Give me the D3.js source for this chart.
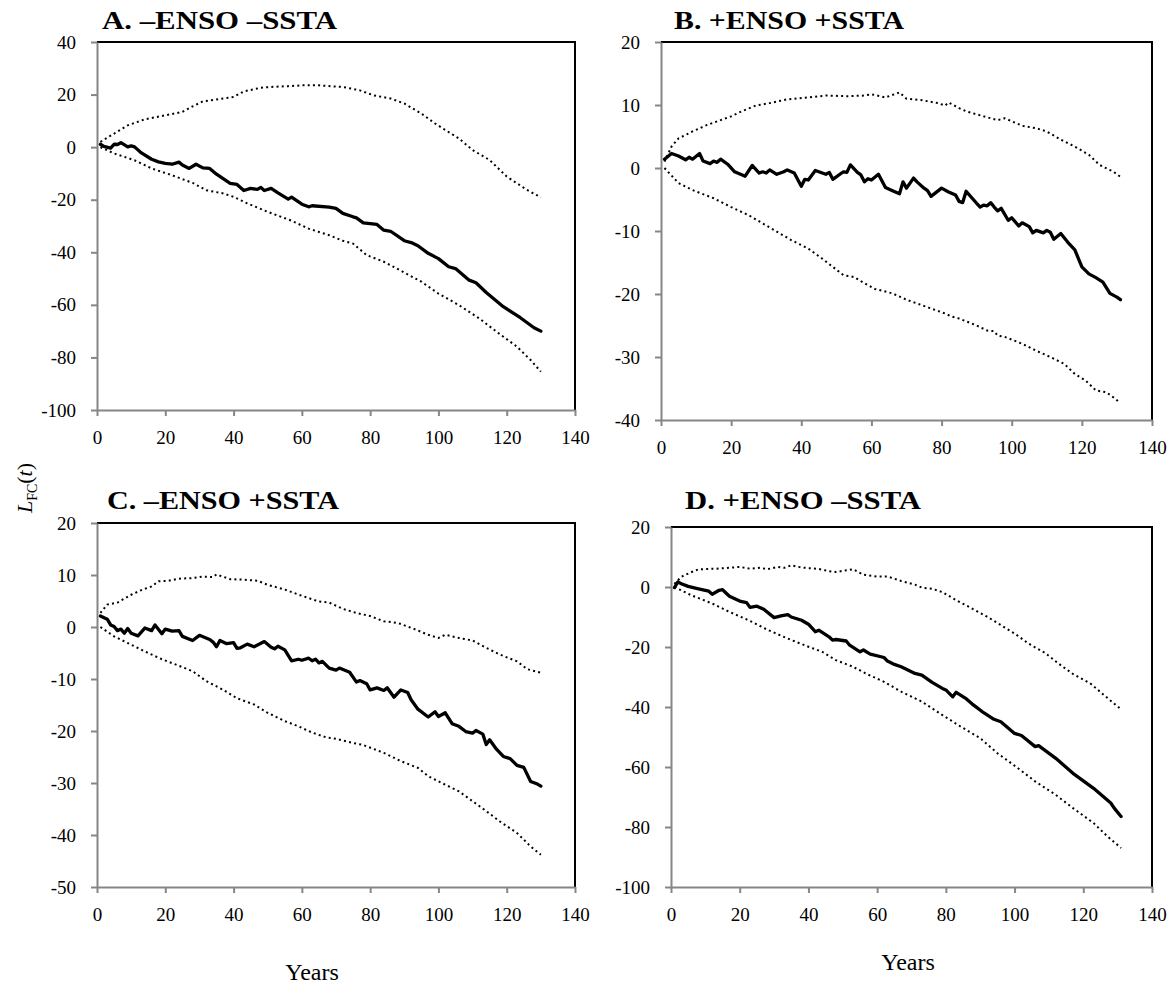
<!DOCTYPE html>
<html>
<head>
<meta charset="utf-8">
<script src="https://cdn.jsdelivr.net/npm/d3@7"></script>
<style>
  body { margin: 0; background: #fff; }
  svg text { font-family: "Liberation Serif", "Times New Roman", serif; fill: #000; }
  .axis path, .axis line { stroke: #868686; stroke-width: 2; }
  .axis text { font-size: 19px; }
</style>
</head>
<body>
<div id="chart"></div>
<script>
// values: [year, L_FC]
const aMean = [[1,1.1],[2,0.3],[4,-0.4],[5,1.1],[6,1.0],[7,1.7],[9,0.1],[10,0.5],[11,0.1],[13,-2.2],[16,-4.6],[18,-5.6],[20,-6.2],[22,-6.5],[24,-5.7],[25,-6.8],[27,-8.1],[29,-6.5],[31,-7.9],[33,-8.1],[35,-10.3],[39,-13.8],[41,-14.2],[43,-16.5],[45,-15.7],[47,-16.1],[48,-15.3],[49,-16.5],[51,-15.7],[53,-17.4],[56,-19.8],[57,-19.0],[60,-21.7],[62,-22.7],[63,-22.3],[68,-22.8],[70,-23.3],[72,-25.2],[75,-26.5],[76,-26.9],[78,-28.8],[82,-29.4],[84,-31.6],[86,-32.0],[90,-35.6],[92,-36.3],[94,-37.5],[97,-40.4],[100,-42.4],[103,-45.5],[105,-46.2],[109,-50.6],[111,-51.6],[114,-55.3],[119,-60.7],[124,-64.9],[128,-68.7],[130,-70.0]];
const aUpper = [[1,2],[9,8.3],[14,10.6],[20,12.1],[25,13.4],[28,15.5],[31,17.4],[37,18.5],[40,19.1],[43,21.2],[48,22.6],[51,22.9],[56,23.2],[60,23.5],[65,23.5],[69,23.1],[72,22.9],[77,21.6],[81,19.7],[86,18.5],[90,16.6],[95,12.8],[99,9.0],[106,3.3],[110,-1.1],[115,-4.9],[120,-11.2],[126,-16.3],[130,-19.1]];
const aLower = [[1,0],[5,-2.4],[11,-5],[16,-8.1],[22,-10.7],[28,-13.6],[32,-16.4],[37,-17.6],[40,-18.9],[44,-21.4],[50,-24.6],[57,-28],[62,-31],[68,-33.5],[72,-35.6],[75,-36.7],[79,-41.1],[84,-43.6],[89,-47],[95,-51.2],[100,-55.7],[106,-60.1],[112,-65.2],[117,-70.2],[123,-75.9],[127,-81],[130,-85.4]];

const bMean = [[1,1.4],[3,2.3],[5,1.9],[7,1.3],[8,1.7],[9,1.4],[11,2.3],[12,1.1],[14,0.7],[15,1.1],[16,0.9],[17,1.4],[19,0.6],[21,-0.6],[24,-1.3],[26,0.4],[28,-0.8],[29,-0.6],[30,-0.8],[31,-0.3],[33,-1.0],[35,-0.6],[36,-0.3],[38,-0.8],[40,-2.9],[41,-1.8],[42,-1.9],[44,-0.4],[47,-1.0],[48,-0.7],[49,-1.8],[52,-0.6],[53,-0.7],[54,0.5],[56,-0.7],[57,-1.1],[58,-2.2],[59,-1.7],[60,-1.9],[62,-1.0],[64,-3.1],[66,-3.6],[68,-4.1],[69,-2.2],[70,-3.2],[72,-1.6],[73,-2.2],[75,-3.2],[76,-3.6],[77,-4.5],[80,-3.2],[82,-3.8],[84,-4.3],[85,-5.3],[86,-5.5],[87,-3.7],[90,-5.6],[91,-6.2],[92,-5.9],[93,-6.0],[94,-5.5],[95,-6.2],[96,-6.8],[97,-6.4],[99,-8.3],[100,-7.9],[102,-9.2],[103,-8.7],[105,-9.3],[106,-10.3],[107,-9.9],[109,-10.3],[110,-9.9],[111,-10.2],[112,-11.3],[114,-10.4],[116,-11.8],[118,-13.0],[120,-15.7],[122,-16.8],[124,-17.4],[126,-18.1],[128,-19.9],[130,-20.5],[131,-20.9]];
const bUpper = [[1,1],[3,3.4],[5,4.7],[9,5.8],[13,6.8],[17,7.6],[20,8.2],[23,9],[27,9.9],[31,10.3],[36,10.9],[42,11.2],[47,11.5],[53,11.4],[58,11.5],[60,11.7],[64,11.2],[68,12],[70,11],[74,10.8],[79,10.3],[81,9.9],[82,10.4],[85,9.5],[87,9],[92,8.2],[96,7.6],[98,7.9],[103,6.7],[107,6.3],[110,5.8],[114,4.5],[118,3.4],[122,2.1],[125,0.5],[129,-0.6],[131,-1.4]];
const bLower = [[1,0],[5,-2.4],[9,-3.5],[15,-4.8],[20,-6.2],[25,-7.5],[29,-8.8],[33,-10.1],[37,-11.4],[42,-12.8],[46,-14.4],[49,-15.7],[52,-17],[55,-17.3],[59,-18.6],[61,-19.2],[66,-19.9],[70,-20.9],[72,-21.3],[77,-22.3],[81,-23.1],[83,-23.6],[85,-23.9],[90,-25],[93,-25.8],[95,-25.9],[96,-26.6],[98,-26.8],[103,-27.9],[107,-29],[111,-30],[115,-31.1],[118,-32.7],[121,-33.7],[124,-35.3],[127,-35.6],[129,-36.4],[131,-37.3]];

const cMean = [[1,2.1],[3,1.5],[4,0.4],[5,0.1],[6,-0.7],[7,-0.4],[8,-1.2],[9,-0.3],[10,-1.2],[12,-1.7],[14,-0.2],[16,-0.7],[17,0.4],[19,-1.3],[20,-0.4],[22,-0.8],[24,-0.7],[25,-1.8],[28,-2.6],[30,-1.6],[33,-2.4],[34,-2.9],[35,-3.8],[36,-2.6],[38,-3.2],[40,-3.0],[41,-4.1],[42,-4.0],[44,-3.3],[46,-3.8],[49,-2.8],[51,-3.9],[52,-4.2],[53,-3.7],[55,-4.4],[57,-6.5],[59,-6.2],[60,-6.4],[62,-6.0],[63,-6.5],[64,-6.2],[65,-6.9],[66,-6.6],[68,-7.9],[70,-8.3],[71,-7.9],[74,-8.7],[76,-10.6],[77,-10.3],[79,-10.9],[80,-12.1],[82,-11.7],[84,-12.2],[85,-11.7],[87,-13.5],[89,-12.1],[91,-12.6],[92,-14.0],[94,-15.8],[97,-17.3],[99,-16.3],[100,-17.2],[102,-16.5],[104,-18.6],[106,-19.1],[108,-20.1],[110,-20.4],[111,-19.9],[113,-20.6],[114,-22.6],[115,-21.7],[117,-23.5],[119,-24.9],[121,-25.3],[123,-26.6],[125,-27.0],[127,-29.7],[129,-30.2],[130,-30.6]];
const cUpper = [[1,2.7],[3,4.3],[6,4.7],[10,6.2],[13,7.1],[16,7.8],[18,8.8],[21,8.9],[24,9.3],[28,9.4],[31,9.7],[34,9.6],[35,10.1],[39,9.2],[43,9.1],[47,8.9],[50,8.1],[55,7.2],[60,6],[65,4.9],[68,4.7],[72,3.5],[76,2.7],[80,2.1],[84,1.1],[88,0.8],[93,-0.4],[97,-1.5],[100,-2.1],[102,-1.5],[106,-2.1],[110,-2.6],[114,-4],[118,-5.3],[123,-6.6],[126,-8.1],[130,-8.8]];
const cLower = [[1,0],[5,-1.8],[10,-3.4],[14,-4.7],[19,-6.2],[23,-7.2],[28,-8.5],[32,-10.4],[37,-12.1],[41,-13.7],[46,-14.9],[50,-16.5],[55,-18.1],[59,-19.1],[63,-20.3],[67,-21.2],[70,-21.5],[75,-22.3],[78,-22.7],[84,-24.2],[89,-25.8],[94,-27.1],[97,-28.7],[101,-30],[106,-31.6],[110,-33.5],[114,-35.4],[118,-37.4],[123,-39.6],[127,-42.2],[130,-43.8]];

const dMean = [[1,-0.2],[2,1.7],[3,1.1],[5,0.2],[8,-0.6],[11,-1.4],[12,-2.4],[14,-1.1],[15,-0.9],[17,-3.1],[20,-4.7],[22,-5.2],[23,-6.8],[25,-6.4],[27,-7.4],[30,-10.2],[32,-9.6],[34,-9.2],[35,-10.0],[38,-11.1],[40,-12.4],[42,-14.9],[43,-14.4],[46,-16.6],[47,-17.7],[48,-17.5],[51,-18.0],[52,-19.4],[55,-21.6],[56,-21.0],[58,-22.4],[62,-23.5],[63,-24.7],[65,-25.8],[67,-26.6],[71,-28.8],[73,-29.4],[76,-31.8],[79,-33.8],[80,-34.3],[82,-36.6],[83,-35.1],[86,-37.3],[88,-39.3],[91,-41.9],[94,-44.1],[96,-44.9],[100,-48.8],[102,-49.5],[106,-53.2],[107,-52.9],[112,-57.1],[117,-62.1],[123,-67.1],[128,-72.0],[129,-73.7],[131,-76.5]];
const dUpper = [[1,1],[3,3.4],[6,5],[8,5.9],[13,6.1],[17,6.4],[20,6.7],[23,6.1],[26,6.4],[28,5.9],[31,6.7],[33,6.4],[35,7.2],[38,6.5],[43,6],[46,5.3],[48,5],[53,5.9],[56,4.1],[60,3.5],[63,3.5],[67,2],[71,0.8],[73,-0.2],[76,-0.6],[79,-1.7],[83,-4.4],[87,-6.8],[92,-9.9],[96,-12.7],[100,-15.5],[104,-18.8],[109,-22.1],[113,-25.7],[117,-29],[122,-32.1],[126,-36],[131,-40.8]];
const dLower = [[1,0],[6,-2.8],[12,-5.5],[17,-8.3],[23,-11.3],[28,-14.2],[34,-17.2],[40,-19.9],[44,-21.6],[48,-24.4],[53,-26.6],[57,-29],[62,-31.6],[67,-34.9],[73,-38.2],[79,-42.7],[84,-46.3],[90,-50.4],[95,-55.4],[101,-60.4],[106,-64.8],[112,-69.3],[117,-73.7],[123,-78.7],[127,-83.1],[131,-87]];

const titles = ["A. \u2013ENSO \u2013SSTA", "B. +ENSO +SSTA", "C. \u2013ENSO +SSTA", "D. +ENSO \u2013SSTA"];
const yDomains = [[-100, 40], [-40, 20], [-50, 20], [-100, 20]];
const yTickSteps = [20, 10, 10, 20];
const xTicks = [0, 20, 40, 60, 80, 100, 120, 140];

// layout of the four boxes (pixels)
const boxes = [
  { left: 97, right: 575, top: 42, bottom: 410, tx: 102, ty: 28.5, tw: 235 },
  { left: 661, right: 1152, top: 42, bottom: 420, tx: 674, ty: 28.5, tw: 230 },
  { left: 97, right: 575, top: 523, bottom: 887, tx: 107, ty: 509, tw: 232 },
  { left: 671, right: 1152, top: 527, bottom: 887, tx: 685, ty: 509, tw: 236 }
];
const series = [
  [aMean, aUpper, aLower],
  [bMean, bUpper, bLower],
  [cMean, cUpper, cLower],
  [dMean, dUpper, dLower]
];

const svg = d3.select("#chart").append("svg")
  .attr("width", 1176)
  .attr("height", 989);

boxes.forEach((b, i) => {
  const x = d3.scaleLinear().domain([0, 140]).range([b.left, b.right]);
  const y = d3.scaleLinear().domain(yDomains[i]).range([b.bottom, b.top]);
  const yTicks = d3.range(yDomains[i][0], yDomains[i][1] + 0.001, yTickSteps[i]);

  // top + right frame (black)
  svg.append("path")
    .attr("d", `M${b.left},${b.top}H${b.right}V${b.bottom}`)
    .attr("fill", "none")
    .attr("stroke", "#000")
    .attr("stroke-width", 2);

  svg.append("g")
    .attr("class", "axis")
    .attr("transform", `translate(0,${b.bottom})`)
    .call(d3.axisBottom(x).tickValues(xTicks).tickSize(6).tickPadding(15).tickSizeOuter(0));

  svg.append("g")
    .attr("class", "axis")
    .attr("transform", `translate(${b.left},0)`)
    .call(d3.axisLeft(y).tickValues(yTicks).tickSize(6).tickPadding(15).tickSizeOuter(0)
      .tickFormat(d => String(d))); // plain hyphen like the original

  const line = d3.line().x(d => x(d[0])).y(d => y(d[1]));
  const [mean, upper, lower] = series[i];

  [upper, lower].forEach(s => {
    svg.append("path")
      .datum(s)
      .attr("d", line)
      .attr("fill", "none")
      .attr("stroke", "#000")
      .attr("stroke-width", 2)
      .attr("stroke-dasharray", "2,3.2");
  });

  svg.append("path")
    .datum(mean)
    .attr("d", line)
    .attr("fill", "none")
    .attr("stroke", "#000")
    .attr("stroke-width", 3.3)
    .attr("stroke-linejoin", "round")
    .attr("stroke-linecap", "round");

  svg.append("text")
    .attr("x", b.tx)
    .attr("y", b.ty)
    .attr("textLength", b.tw)
    .attr("lengthAdjust", "spacingAndGlyphs")
    .style("font-size", "25px")
    .style("font-weight", "bold")
    .text(titles[i]);
});

// shared labels
svg.append("text")
  .attr("x", 312).attr("y", 980)
  .attr("text-anchor", "middle")
  .style("font-size", "24px")
  .text("Years");
svg.append("text")
  .attr("x", 908).attr("y", 970)
  .attr("text-anchor", "middle")
  .style("font-size", "24px")
  .text("Years");

const yLab = svg.append("text")
  .attr("transform", "translate(32,488) rotate(-90)")
  .attr("text-anchor", "middle")
  .style("font-size", "22px");
yLab.append("tspan").style("font-style", "italic").text("L");
yLab.append("tspan").attr("dy", 5).style("font-size", "14px").text("FC");
yLab.append("tspan").attr("dy", -5).text("(");
yLab.append("tspan").style("font-style", "italic").text("t");
yLab.append("tspan").text(")");
</script>
</body>
</html>
